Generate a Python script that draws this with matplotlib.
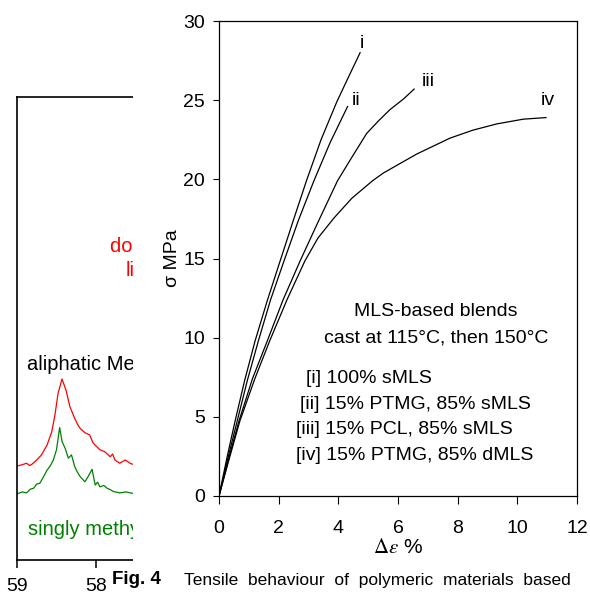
import matplotlib
matplotlib.use('Agg')
import matplotlib.pyplot as plt
from matplotlib.patches import Rectangle

plt.rcParams['font.family'] = ['Liberation Sans', 'DejaVu Sans']
plt.rcParams['mathtext.fontset'] = 'stix'

# ============================================================
# Data: tensile curves (strain %, stress MPa)
# ============================================================
strain_i   = [0, 0.27, 0.54, 0.86, 1.21, 1.62, 2.05, 2.49, 2.93, 3.42, 3.95, 4.35, 4.73]
stress_i   = [0, 2.45, 4.74, 7.3, 9.8, 12.35, 14.85, 17.4, 19.9, 22.5, 24.9, 26.5, 28.0]
strain_ii  = [0, 0.3, 0.61, 0.95, 1.32, 1.73, 2.18, 2.66, 3.18, 3.72, 4.31]
stress_ii  = [0, 2.4, 4.74, 7.3, 9.8, 12.4, 14.85, 17.4, 19.9, 22.3, 24.6]
strain_iii = [0, 0.33, 0.67, 1.12, 1.62, 2.15, 2.72, 3.27, 3.97, 4.39, 4.95, 5.35, 5.73, 6.2, 6.54]
stress_iii = [0, 2.4, 4.74, 7.4, 9.8, 12.4, 14.85, 17.1, 19.9, 21.2, 22.9, 23.7, 24.4, 25.1, 25.7]
strain_iv  = [0, 0.35, 0.7, 1.2, 1.70, 2.28, 2.88, 3.32, 3.85, 4.45, 5.14, 5.51, 6.63,
              7.74, 8.5, 9.31, 10.2, 10.96]
stress_iv  = [0, 2.4, 4.74, 7.4, 9.8, 12.4, 14.85, 16.3, 17.55, 18.8, 19.9, 20.4, 21.6,
              22.6, 23.1, 23.5, 23.8, 23.9]

curve_names  = ['i', 'ii', 'iii', 'iv']
label_x      = [4.80, 4.59, 7.01, 11.03]
label_y      = [28.6, 24.95, 26.15, 25.0]
legend_lines = ['[i] 100% sMLS', '[ii] 15% PTMG, 85% sMLS',
                '[iii] 15% PCL, 85% sMLS', '[iv] 15% PTMG, 85% dMLS']

x_ticks = [0, 2, 4, 6, 8, 10, 12]
y_ticks = [0, 5, 10, 15, 20, 25, 30]

# Data: NMR spectrum behind (ppm, intensity)
ppm_red = [59.0, 58.93, 58.88, 58.84, 58.81, 58.75, 58.69, 58.62, 58.56, 58.52, 58.48,
           58.43, 58.38, 58.33, 58.27, 58.23, 58.20, 58.14, 58.08, 58.04, 58.01, 57.95,
           57.89, 57.82, 57.79, 57.76, 57.70, 57.66, 57.63, 57.57, 57.54, 57.45]
int_red = [20.3, 20.6, 20.9, 20.4, 20.7, 21.6, 22.7, 24.8, 27.7, 31.3, 36.0,
           39.1, 36.7, 33.1, 30.6, 29.2, 28.4, 27.5, 27.0, 25.4, 24.8, 23.8,
           23.4, 22.3, 22.9, 21.6, 20.9, 21.3, 21.6, 20.9, 20.7, 20.5]
ppm_green = [59.0, 58.93, 58.88, 58.83, 58.79, 58.75, 58.71, 58.66, 58.62, 58.58, 58.54,
             58.50, 58.46, 58.43, 58.39, 58.35, 58.31, 58.27, 58.24, 58.20, 58.14, 58.10,
             58.05, 58.01, 57.98, 57.95, 57.90, 57.86, 57.82, 57.78, 57.70, 57.62, 57.54, 57.45]
int_green = [14.3, 14.7, 14.5, 15.3, 15.5, 16.4, 16.6, 18.1, 19.4, 20.3, 21.6,
             23.8, 28.6, 25.6, 24.1, 22.0, 22.7, 20.2, 19.1, 18.0, 16.9, 18.0,
             19.6, 16.2, 16.8, 15.8, 16.1, 15.5, 15.2, 14.8, 14.5, 14.7, 14.4, 14.4]

# ============================================================
# Figure
# ============================================================
fig = plt.figure(figsize=(5.9, 5.96), dpi=100)

# background spectrum (mostly hidden)
ax_nmr = fig.add_axes([17/590, 36/596, 316/590, 463/596])
ax_nmr.plot(ppm_red, int_red, color='red', lw=0.9)
ax_nmr.plot(ppm_green, int_green, color='green', lw=0.9)
ax_nmr.set_xlim(59, 55)
ax_nmr.set_ylim(0, 100)
ax_nmr.set_xticks([59, 58, 57, 56, 55])
ax_nmr.set_yticks([])
ax_nmr.tick_params(axis='x', direction='out', length=6, width=1.1, labelsize=14, pad=7)
ax_nmr.spines['right'].set_visible(False)
for s in ['left', 'top', 'bottom']:
    ax_nmr.spines[s].set_linewidth(1.2)
ax_nmr.text(57.82, 67.8, 'doubly methylated', color='red', fontsize=14.5, va='center')
ax_nmr.text(57.63, 62.6, 'lignin', color='red', fontsize=14.5, va='center')
ax_nmr.text(58.87, 42.3, 'aliphatic MeO', color='black', fontsize=14.5, va='center')
ax_nmr.text(58.86, 6.5, 'singly methylated', color='green', fontsize=14.5, va='center')

# white sheet of the tensile figure on top
fig.add_artist(Rectangle((133/590, 0), 1, 1, transform=fig.transFigure,
                         facecolor='white', edgecolor='none', zorder=1))
fig.add_artist(Rectangle((108/590, 0), 30/590, 31/596, transform=fig.transFigure,
                         facecolor='white', edgecolor='none', zorder=1))

ax = fig.add_axes([219/590, 100/596, 358/590, 475/596])
ax.set_zorder(2)
ax.patch.set_alpha(0)
ax.plot(strain_i, stress_i, color='black', lw=0.9)
ax.plot(strain_ii, stress_ii, color='black', lw=0.9)
ax.plot(strain_iii, stress_iii, color='black', lw=0.9)
ax.plot(strain_iv, stress_iv, color='black', lw=0.9)
for name, lx, ly in zip(curve_names, label_x, label_y):
    ax.text(lx, ly, name, fontsize=14, ha='center', va='center')

ax.set_xlim(0, 12)
ax.set_ylim(0, 30)
ax.set_xticks(x_ticks)
ax.set_yticks(y_ticks)
ax.tick_params(axis='x', direction='out', length=6, width=0.8, labelsize=14, pad=11)
ax.tick_params(axis='y', direction='out', length=4, width=0.8, labelsize=14, pad=6)
for s in ax.spines.values():
    s.set_linewidth(0.9)
ax.set_ylabel('σ MPa', fontsize=14)
ax.yaxis.set_label_coords(-0.105, 0.5)
ax.set_xlabel(r'$\Delta\varepsilon$ %', fontsize=15)
ax.xaxis.set_label_coords(0.5, -0.088)

ax.text(7.27, 11.64, 'MLS-based blends', fontsize=14, ha='center', va='center')
ax.text(7.27, 9.98, 'cast at 115°C, then 150°C', fontsize=14, ha='center', va='center')
leg_x = [2.92, 2.72, 2.58, 2.58]
leg_y = [7.45, 5.81, 4.17, 2.55]
for txt, lx, ly in zip(legend_lines, leg_x, leg_y):
    ax.text(lx, ly, txt, fontsize=14, ha='left', va='center')

# caption
fig.text(112/590, 1 - 580/596, 'Fig. 4', fontsize=13.5, fontweight='bold', va='center', zorder=3)
fig.text(184/590, 1 - 580/596, 'Tensile  behaviour  of  polymeric  materials  based',
         fontsize=12.5, va='center', zorder=3)
fig.text(112/590, 1 - 605/596, 'on  methylated  lignin  blends  with  aliphatic  polyesters',
         fontsize=12.5, va='center', zorder=3)

plt.savefig('out.png', dpi=100)
plt.close()
print('Saved: out.png')
